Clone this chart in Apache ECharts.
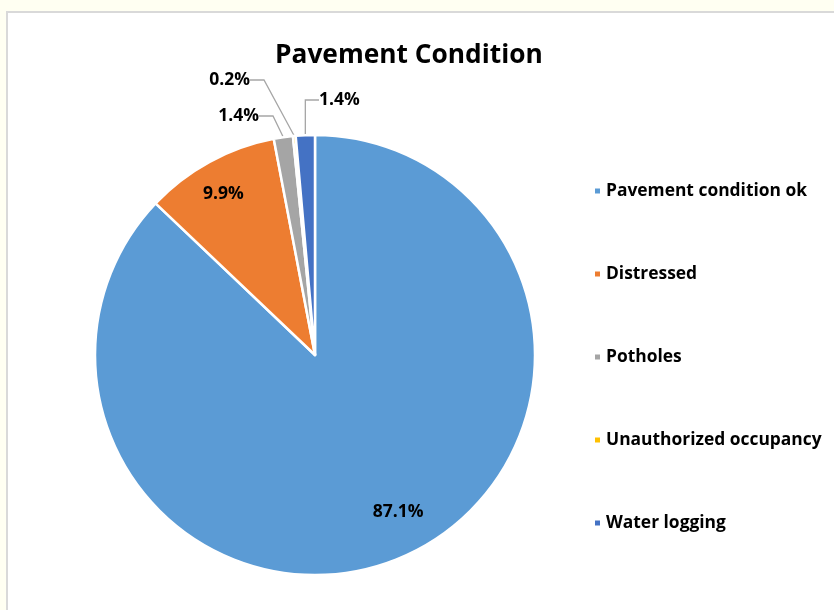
<!DOCTYPE html>
<html>
<head>
<meta charset="utf-8">
<script src="https://cdn.jsdelivr.net/npm/echarts@6/dist/echarts.min.js"></script>
<style>
  html, body { margin: 0; padding: 0; background: #fffff2; }
  .frame {
    position: absolute; left: 6px; top: 11px; width: 860px; height: 640px;
    background: #fff; border: 2px solid #d9d9d9; box-sizing: border-box;
  }
  #chart { position: absolute; left: 0; top: 0; width: 834px; height: 610px; }
</style>
</head>
<body>
<div class="frame"></div>
<div id="chart"></div>
<script>
const categories = ['Pavement condition ok', 'Distressed', 'Potholes', 'Unauthorized occupancy', 'Water logging']
const shares = [87.1, 9.9, 1.4, 0.2, 1.4]
const colors = ['#5b9bd5', '#ed7d31', '#a5a5a5', '#ffc000', '#4472c4']
// big slices get their label inside, the thin ones outside with a leader line
const insideLabel = [true, true, false, false, false]
// where the outside labels sit (like excel put them by hand)
const outsideSpot = {
  2: { x: 259, y: 116, align: 'right' },
  3: { x: 250, y: 80, align: 'right' },
  4: { x: 319, y: 100, align: 'left' }
}
// small nudge for the inside labels, excel's "best fit" isn't exactly mid-slice
const insideNudge = {
  0: { dx: 11, dy: -11 },
  1: { dx: -4, dy: 0 }
}

const FONT = '"Open Sans", Lato, sans-serif'
const center = [315, 355]
const radius = 220

const labelText = {
  fontFamily: FONT,
  fontWeight: 'bold',
  fontSize: 17.5,
  color: '#000'
}

const sliceData = categories.map((name, i) => ({
  name: name,
  value: shares[i],
  itemStyle: { color: colors[i] },
  label: { show: !insideLabel[i] },
  labelLine: { show: !insideLabel[i] }
}))

// transparent copy, only used to put the inside labels further out
const labelData = categories.map((name, i) => ({
  name: name,
  value: shares[i],
  label: { show: insideLabel[i] }
}))

const chart = echarts.init(document.getElementById('chart'), null, { renderer: 'canvas' })
chart.setOption({
  animation: false,
  title: {
    text: 'Pavement Condition',
    left: 270,
    top: 38,
    textStyle: { fontFamily: FONT, fontWeight: 'bold', fontSize: 26.3, color: '#000' }
  },
  legend: {
    data: categories,
    orient: 'vertical',
    left: 588,
    top: 176,
    itemWidth: 7,
    itemHeight: 7,
    itemGap: 63,
    icon: 'rect',
    textStyle: { fontFamily: FONT, fontWeight: 'bold', fontSize: 17.4, color: '#000', lineHeight: 20 }
  },
  series: [{
    type: 'pie',
    center: center,
    radius: [0, radius],
    startAngle: 90,
    clockwise: true,
    data: sliceData,
    itemStyle: { borderColor: '#fff', borderWidth: 2.5 },
    label: Object.assign({ position: 'outside', formatter: '{c}%' }, labelText),
    labelLine: { length: 14, length2: 14, lineStyle: { color: '#a6a6a6', width: 1.3 } },
    labelLayout: function (p) {
      const s = outsideSpot[p.dataIndex]
      if (!s) return {}
      return { x: s.x, y: s.y, align: s.align, verticalAlign: 'middle' }
    },
    emphasis: { disabled: true }
  }, {
    type: 'pie',
    center: center,
    radius: [0, 360],
    startAngle: 90,
    clockwise: true,
    silent: true,
    data: labelData,
    itemStyle: { color: 'rgba(0,0,0,0)' },
    label: Object.assign({ position: 'inside', formatter: '{c}%' }, labelText),
    labelLine: { show: false },
    labelLayout: function (p) {
      return insideNudge[p.dataIndex] || {}
    },
    emphasis: { disabled: true }
  }]
})
</script>
</body>
</html>
